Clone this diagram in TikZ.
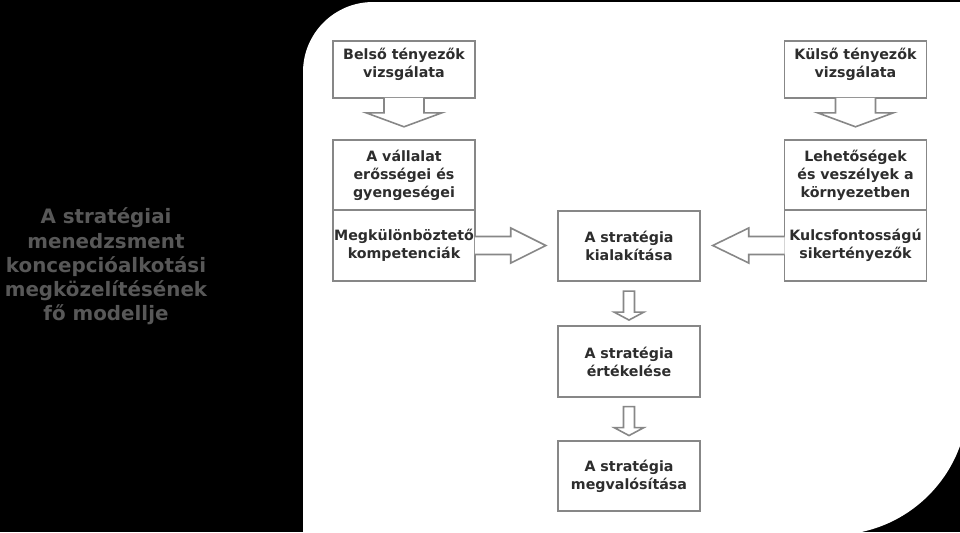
\documentclass[tikz,border=0pt]{standalone}
\usepackage{fontspec}
\setmainfont{DejaVu Sans}
\usetikzlibrary{calc}
\definecolor{boxline}{RGB}{135,135,135}
\definecolor{boxtext}{RGB}{45,45,45}
\definecolor{titlegray}{RGB}{88,88,88}

\begin{document}
\begin{tikzpicture}[x=0.02cm, y=-0.02cm, font=\bfseries\fontsize{8.1}{10.2}\selectfont]
	\tikzset{box/.style={draw=boxline, line width=0.9pt, fill=white, text=boxtext, align=center, minimum width=2.84cm, minimum height=1.41cm, inner sep=0pt},
		blockarrow/.style={draw=boxline, line width=0.9pt, fill=white, line join=miter},
		lbl/.style={text=boxtext, align=center},
		cimtext/.style={text=titlegray, align=center, font=\bfseries\fontsize{11.3}{13.8}\selectfont}}
	\useasboundingbox (0,0) rectangle (960,532);
	\fill[black] (0,0) rectangle (960,532);
	\fill[white] (303,535) -- (303,72) arc[start angle=180, end angle=90, radius=1.4cm] -- (968,2) -- (968,400) arc[start angle=0, end angle=-90, radius=2.7cm] -- cycle;
	\node[cimtext] (cim) at (106,266.5) {A stratégiai\\menedzsment\\koncepcióalkotási\\megközelítésének\\fő modellje};
	\node[box, minimum height=1.14cm] (belso) at (404,69.5) {};
	\node[lbl] at ($(belso)+(0,-5.5)$) {Belső tényezők\\vizsgálata};
	\node[box, minimum height=1.14cm] (kulso) at (855.5,69.5) {};
	\node[lbl] at ($(kulso)+(0,-5.5)$) {Külső tényezők\\vizsgálata};
	\node[box] (eross) at (404,175) {A vállalat\\erősségei és\\gyengeségei};
	\node[box] (megkul) at (404,245.5) {Megkülönböztető\\kompetenciák};
	\node[box] (lehet) at (855.5,175) {Lehetőségek\\és veszélyek a\\környezetben};
	\node[box] (kulcs) at (855.5,245.5) {Kulcsfontosságú\\sikertényezők};
	\node[box] (kial) at (629,246) {A stratégia\\kialakítása};
	\node[box] (ertek) at (629,361.5) {A stratégia\\értékelése};
	\node[box] (megval) at (629,476) {A stratégia\\megvalósítása};
	\foreach \a in {belso, kulso}
		\draw[blockarrow] ($(\a.south)+(-20,-1)$) -- ++(0,15) -- ++(-18,0) -- ($(\a.south)+(0,28)$) -- ($(\a.south)+(38,14)$) -- ++(-18,0) -- ++(0,-15);
	\draw[blockarrow] ($(megkul.east)+(-1,-9)$) -- ++(36,0) -- ++(0,-8.5) -- ($(megkul.east)+(70,0)$) -- ($(megkul.east)+(35,17.5)$) -- ++(0,-8.5) -- ($(megkul.east)+(-1,9)$);
	\draw[blockarrow] ($(kulcs.west)+(1,-9)$) -- ($(kulcs.west)+(-35,-9)$) -- ++(0,-8.5) -- ($(kulcs.west)+(-71,0)$) -- ($(kulcs.west)+(-35,17.5)$) -- ++(0,-8.5) -- ($(kulcs.west)+(1,9)$);
	\foreach \a in {kial, ertek}
		\draw[blockarrow] ($(\a.south)+(-5.5,9)$) -- ++(0,21) -- ++(-9.5,0) -- ($(\a.south)+(0,38)$) -- ($(\a.south)+(15,30)$) -- ++(-9.5,0) -- ++(0,-21) -- cycle;
\end{tikzpicture}
\end{document}
